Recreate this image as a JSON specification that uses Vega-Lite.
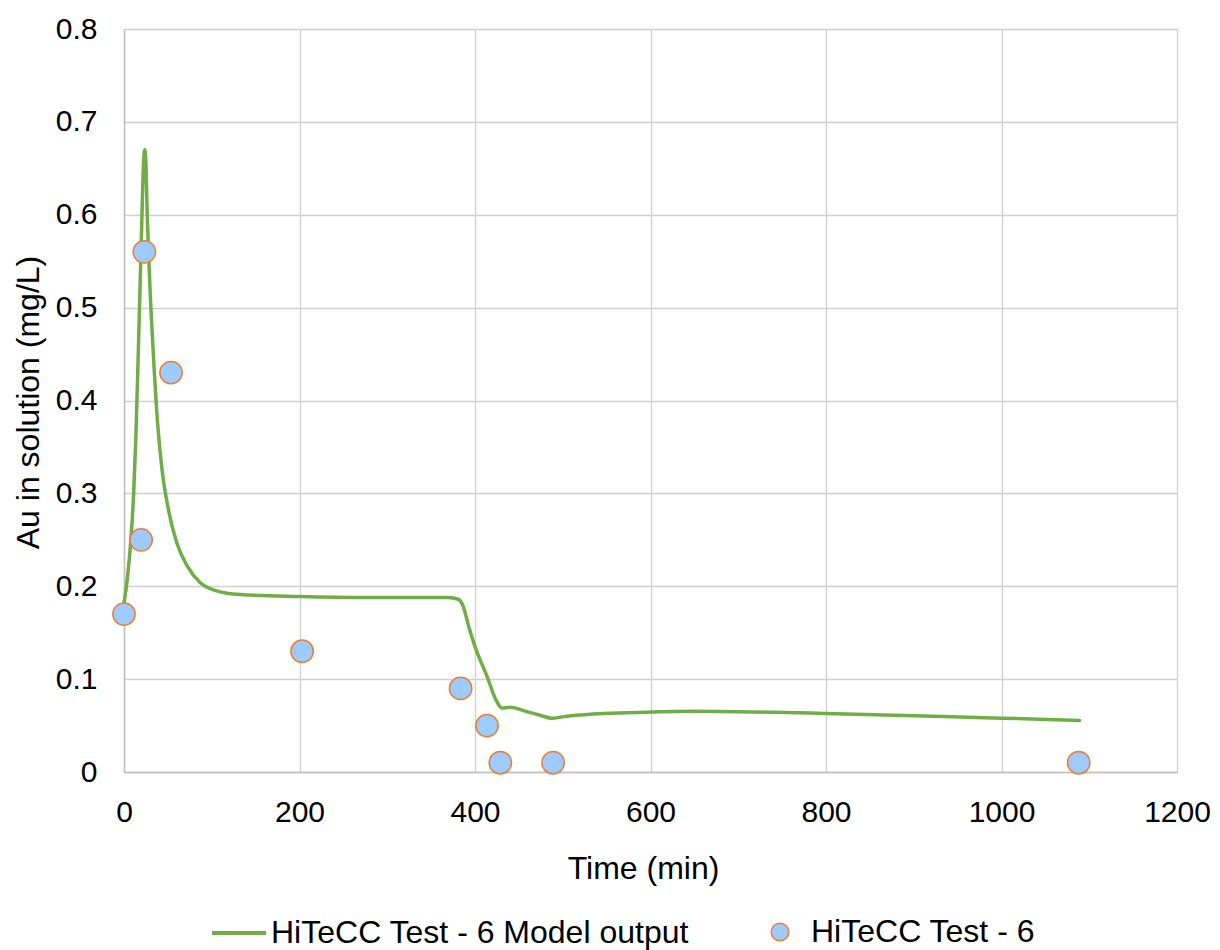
{
  "$schema": "https://vega.github.io/schema/vega-lite/v6.json",
  "autosize": {"type": "none"},
  "padding": {"left": 124, "top": 29, "right": 43, "bottom": 178},
  "width": 1053,
  "height": 743,
  "background": "white",
  "config": {
    "view": {"stroke": null},
    "font": "Liberation Sans",
    "axis": {
      "labelFont": "Liberation Sans",
      "titleFont": "Liberation Sans",
      "labelColor": "#000000",
      "titleColor": "#000000",
      "titleFontWeight": "normal",
      "gridColor": "#D0D0D0",
      "gridWidth": 1.3,
      "domainColor": "#BFBFBF",
      "domainWidth": 1.5,
      "ticks": false,
      "tickSize": 0
    },
    "legend": {"labelFont": "Liberation Sans", "labelColor": "#000000", "padding": 0}
  },
  "datasets": {
    "model": [
      {"t": 0, "au": 0.182, "series": "HiTeCC Test - 6 Model output"},
      {"t": 4, "au": 0.21, "series": "HiTeCC Test - 6 Model output"},
      {"t": 8, "au": 0.252, "series": "HiTeCC Test - 6 Model output"},
      {"t": 11, "au": 0.3, "series": "HiTeCC Test - 6 Model output"},
      {"t": 13.5, "au": 0.36, "series": "HiTeCC Test - 6 Model output"},
      {"t": 15.5, "au": 0.425, "series": "HiTeCC Test - 6 Model output"},
      {"t": 17.5, "au": 0.495, "series": "HiTeCC Test - 6 Model output"},
      {"t": 19.5, "au": 0.565, "series": "HiTeCC Test - 6 Model output"},
      {"t": 21.2, "au": 0.625, "series": "HiTeCC Test - 6 Model output"},
      {"t": 22.5, "au": 0.66, "series": "HiTeCC Test - 6 Model output"},
      {"t": 23.7, "au": 0.670, "series": "HiTeCC Test - 6 Model output"},
      {"t": 24.8, "au": 0.66, "series": "HiTeCC Test - 6 Model output"},
      {"t": 26.2, "au": 0.61, "series": "HiTeCC Test - 6 Model output"},
      {"t": 29.6, "au": 0.522, "series": "HiTeCC Test - 6 Model output"},
      {"t": 33.4, "au": 0.451, "series": "HiTeCC Test - 6 Model output"},
      {"t": 38, "au": 0.379, "series": "HiTeCC Test - 6 Model output"},
      {"t": 43.3, "au": 0.326, "series": "HiTeCC Test - 6 Model output"},
      {"t": 50.5, "au": 0.283, "series": "HiTeCC Test - 6 Model output"},
      {"t": 60, "au": 0.247, "series": "HiTeCC Test - 6 Model output"},
      {"t": 72, "au": 0.222, "series": "HiTeCC Test - 6 Model output"},
      {"t": 86.6, "au": 0.204, "series": "HiTeCC Test - 6 Model output"},
      {"t": 105.6, "au": 0.195, "series": "HiTeCC Test - 6 Model output"},
      {"t": 132, "au": 0.191, "series": "HiTeCC Test - 6 Model output"},
      {"t": 200, "au": 0.189, "series": "HiTeCC Test - 6 Model output"},
      {"t": 269, "au": 0.188, "series": "HiTeCC Test - 6 Model output"},
      {"t": 369.6, "au": 0.188, "series": "HiTeCC Test - 6 Model output"},
      {"t": 381, "au": 0.186, "series": "HiTeCC Test - 6 Model output"},
      {"t": 386.7, "au": 0.178, "series": "HiTeCC Test - 6 Model output"},
      {"t": 392.4, "au": 0.158, "series": "HiTeCC Test - 6 Model output"},
      {"t": 400, "au": 0.135, "series": "HiTeCC Test - 6 Model output"},
      {"t": 413.3, "au": 0.104, "series": "HiTeCC Test - 6 Model output"},
      {"t": 424.7, "au": 0.076, "series": "HiTeCC Test - 6 Model output"},
      {"t": 430.4, "au": 0.069, "series": "HiTeCC Test - 6 Model output"},
      {"t": 440, "au": 0.0696, "series": "HiTeCC Test - 6 Model output"},
      {"t": 459, "au": 0.065, "series": "HiTeCC Test - 6 Model output"},
      {"t": 476, "au": 0.0606, "series": "HiTeCC Test - 6 Model output"},
      {"t": 487.4, "au": 0.0578, "series": "HiTeCC Test - 6 Model output"},
      {"t": 500.7, "au": 0.0596, "series": "HiTeCC Test - 6 Model output"},
      {"t": 534.8, "au": 0.0624, "series": "HiTeCC Test - 6 Model output"},
      {"t": 572.9, "au": 0.0639, "series": "HiTeCC Test - 6 Model output"},
      {"t": 610.8, "au": 0.065, "series": "HiTeCC Test - 6 Model output"},
      {"t": 650, "au": 0.0654, "series": "HiTeCC Test - 6 Model output"},
      {"t": 700, "au": 0.065, "series": "HiTeCC Test - 6 Model output"},
      {"t": 800, "au": 0.063, "series": "HiTeCC Test - 6 Model output"},
      {"t": 900, "au": 0.0605, "series": "HiTeCC Test - 6 Model output"},
      {"t": 1000, "au": 0.058, "series": "HiTeCC Test - 6 Model output"},
      {"t": 1089, "au": 0.0555, "series": "HiTeCC Test - 6 Model output"}
    ],
    "obs": [
      {"t": 0, "au": 0.17, "series": "HiTeCC Test - 6"},
      {"t": 19.5, "au": 0.25, "series": "HiTeCC Test - 6"},
      {"t": 23.2, "au": 0.56, "series": "HiTeCC Test - 6"},
      {"t": 53.6, "au": 0.43, "series": "HiTeCC Test - 6"},
      {"t": 203, "au": 0.13, "series": "HiTeCC Test - 6"},
      {"t": 383.6, "au": 0.09, "series": "HiTeCC Test - 6"},
      {"t": 413.7, "au": 0.05, "series": "HiTeCC Test - 6"},
      {"t": 428.9, "au": 0.01, "series": "HiTeCC Test - 6"},
      {"t": 489, "au": 0.01, "series": "HiTeCC Test - 6"},
      {"t": 1088, "au": 0.01, "series": "HiTeCC Test - 6"}
    ]
  },
  "encoding": {
    "x": {
      "field": "t",
      "type": "quantitative",
      "scale": {"domain": [0, 1200], "nice": false, "zero": false},
      "axis": {
        "title": "Time (min)",
        "values": [0, 200, 400, 600, 800, 1000, 1200],
        "format": "d",
        "labelFontSize": 30,
        "labelBaseline": "middle",
        "labelPadding": 40,
        "labelFlush": false,
        "titleFontSize": 32,
        "titleX": 519,
        "titleY": 96,
        "titleAlign": "center",
        "titleBaseline": "middle"
      }
    },
    "y": {
      "field": "au",
      "type": "quantitative",
      "scale": {"domain": [0, 0.8], "nice": false},
      "axis": {
        "title": "Au in solution (mg/L)",
        "values": [0, 0.1, 0.2, 0.3, 0.4, 0.5, 0.6, 0.7, 0.8],
        "format": ".1~f",
        "labelFontSize": 30,
        "labelPadding": 27,
        "labelFlush": false,
        "titleFontSize": 32,
        "titleAngle": -90,
        "titleX": -96,
        "titleY": 373,
        "titleAlign": "center",
        "titleBaseline": "middle"
      }
    }
  },
  "layer": [
    {
      "data": {"name": "model"},
      "mark": {"type": "line", "strokeWidth": 3.5, "interpolate": "monotone", "strokeJoin": "round", "strokeCap": "round", "clip": false},
      "encoding": {
        "stroke": {
          "field": "series",
          "type": "nominal",
          "scale": {"domain": ["HiTeCC Test - 6 Model output"], "range": ["#70AD47"]},
          "legend": {
            "title": null,
            "orient": "none",
            "legendX": 86,
            "legendY": 875,
            "padding": 0,
            "labelFontSize": 32,
            "labelLimit": 0,
            "labelOffset": 3,
            "symbolType": "stroke",
            "symbolSize": 2916,
            "symbolStrokeWidth": 4,
            "symbolStrokeColor": "#70AD47"
          }
        }
      }
    },
    {
      "data": {"name": "obs"},
      "mark": {"type": "point", "filled": true, "size": 500, "stroke": "#ED7D31", "strokeWidth": 1.5, "opacity": 1, "fillOpacity": 1},
      "encoding": {
        "fill": {
          "field": "series",
          "type": "nominal",
          "scale": {"domain": ["HiTeCC Test - 6"], "range": ["#9DCBFF"]},
          "legend": {
            "title": null,
            "orient": "none",
            "legendX": 640,
            "legendY": 887,
            "padding": 0,
            "labelFontSize": 32,
            "labelLimit": 0,
            "labelOffset": 15,
            "symbolType": "circle",
            "symbolSize": 310,
            "symbolStrokeWidth": 1.5,
            "symbolStrokeColor": "#ED7D31",
            "symbolFillColor": "#9DCBFF",
            "symbolOpacity": 1
          }
        }
      }
    }
  ]
}
